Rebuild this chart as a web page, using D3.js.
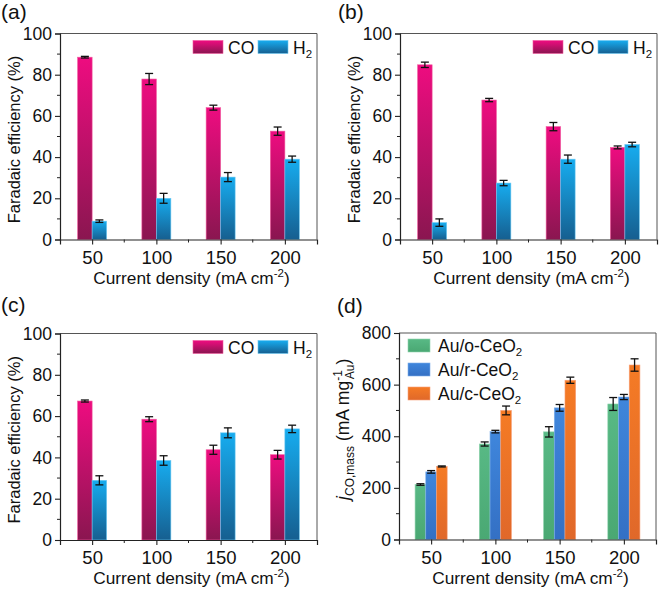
<!DOCTYPE html>
<html><head><meta charset="utf-8">
<script src="https://cdn.jsdelivr.net/npm/d3@7"></script>
<style>
html,body{margin:0;padding:0;background:#fff;}
svg{display:block;font-family:"Liberation Sans",Arial,sans-serif;}
</style></head>
<body>
<svg id="chart" width="661" height="589"></svg>
<script>
// ---------- data ----------
const currents = [50, 100, 150, 200];
const feTicks = [0, 20, 40, 60, 80, 100];
const massTicks = [0, 200, 400, 600, 800];

const aCO = [88.5, 77.9, 64.0, 52.6];
const aCOerr = [0.4, 2.7, 1.2, 2.0];
const aH2 = [8.9, 20.0, 30.3, 39.0];
const aH2err = [0.6, 2.4, 2.2, 1.5];

const bCO = [84.8, 67.7, 54.8, 44.7];
const bCOerr = [1.3, 0.8, 2.0, 0.7];
const bH2 = [8.2, 27.4, 39.0, 46.1];
const bH2err = [1.8, 1.3, 2.0, 1.1];

const cCO = [67.3, 58.5, 43.7, 41.3];
const cCOerr = [0.5, 1.2, 2.2, 2.1];
const cH2 = [28.9, 38.5, 51.9, 53.8];
const cH2err = [2.2, 2.3, 2.4, 1.8];

const dNames = ["Au/o-CeO", "Au/r-CeO", "Au/c-CeO"];
const dO = [213, 370, 417, 525];
const dOerr = [3, 8, 20, 25];
const dR = [262, 418, 510, 552];
const dRerr = [5, 5, 13, 10];
const dC = [283, 500, 617, 676];
const dCerr = [2, 17, 12, 24];

// ---------- drawing ----------
const svg = d3.select("#chart");
const defs = svg.append("defs");
function grad(id, top, bottom) {
  const g = defs.append("linearGradient").attr("id", id)
    .attr("x1", 0).attr("y1", 0).attr("x2", 0).attr("y2", 1);
  g.append("stop").attr("offset", "0%").attr("stop-color", top);
  g.append("stop").attr("offset", "100%").attr("stop-color", bottom);
}
grad("gCO", "#ee0c80", "#8a1650");
grad("gH2", "#17acef", "#165f90");
grad("gG", "#58b985", "#4aa873");
grad("gB", "#3f86dc", "#3470c4");
grad("gO", "#f57b25", "#e0682a");

const AX = "#222";

function panel(opt) {
  const {left, right, top, bottom} = opt;
  const g = svg.append("g");
  const x = d3.scaleLinear().domain([25, 225]).range([left, right]);
  const y = d3.scaleLinear().domain([0, opt.ymax]).range([bottom, top]);

  const nS = opt.series.length;
  const bw = opt.barW;
  opt.series.forEach((s, si) => {
    const off = (si - nS / 2) * bw;
    const grp = g.append("g");
    grp.selectAll("rect").data(s.values).enter().append("rect")
      .attr("x", (d, i) => x(currents[i]) + off)
      .attr("y", d => y(d))
      .attr("width", bw)
      .attr("height", d => y(0) - y(d))
      .attr("fill", `url(#${s.grad})`)
      .attr("stroke", s.edge).attr("stroke-width", 0.6);
    s.values.forEach((v, i) => {
      const cx = x(currents[i]) + off + bw / 2;
      const e = s.err[i];
      const eg = grp.append("g").attr("stroke", "#111").attr("stroke-width", 1.3);
      eg.append("line").attr("x1", cx).attr("x2", cx).attr("y1", y(v - e)).attr("y2", y(v + e));
      eg.append("line").attr("x1", cx - 4).attr("x2", cx + 4).attr("y1", y(v - e)).attr("y2", y(v - e));
      eg.append("line").attr("x1", cx - 4).attr("x2", cx + 4).attr("y1", y(v + e)).attr("y2", y(v + e));
    });
  });

  g.append("line").attr("x1", left).attr("x2", right).attr("y1", top).attr("y2", top).attr("stroke", "#555").attr("stroke-width", 1);
  g.append("line").attr("x1", right).attr("x2", right).attr("y1", top).attr("y2", bottom).attr("stroke", "#555").attr("stroke-width", 1);

  const ya = d3.axisLeft(y).tickValues(opt.yTicks).tickSize(5).tickPadding(3).tickFormat(d3.format("d"));
  const yg = g.append("g").attr("transform", `translate(${left},0)`).call(ya);
  yg.select(".domain").attr("stroke", AX).attr("stroke-width", 1.2);
  yg.selectAll(".tick line").attr("stroke", AX).attr("stroke-width", 1.1);
  yg.selectAll("text").attr("font-size", 17.5).attr("fill", "#111").attr("font-family", "Liberation Sans, Arial");
  const step = opt.yTicks[1] - opt.yTicks[0];
  const minor = opt.yTicks.slice(0, -1).map(t => t + step / 2);
  g.selectAll(null).data(minor).enter().append("line")
    .attr("x1", left - 3).attr("x2", left).attr("y1", d => y(d)).attr("y2", d => y(d))
    .attr("stroke", AX).attr("stroke-width", 1);

  const xa = d3.axisBottom(x).tickValues(currents).tickSize(5).tickPadding(6).tickFormat(d3.format("d"));
  const xg = g.append("g").attr("transform", `translate(0,${bottom})`).call(xa);
  xg.select(".domain").attr("stroke", AX).attr("stroke-width", 1.2);
  xg.selectAll(".tick line").attr("stroke", AX).attr("stroke-width", 1.1);
  xg.selectAll("text").attr("font-size", 18.5).attr("fill", "#111").attr("font-family", "Liberation Sans, Arial");
  g.selectAll(null).data([75, 125, 175]).enter().append("line")
    .attr("x1", d => x(d)).attr("x2", d => x(d)).attr("y1", bottom).attr("y2", bottom + 3)
    .attr("stroke", AX).attr("stroke-width", 1);

  const xt = g.append("text").attr("x", (left + right) / 2 + 3).attr("y", bottom + 44)
    .attr("text-anchor", "middle").attr("font-size", 17.3).attr("fill", "#111");
  xt.append("tspan").text("Current density (mA cm");
  xt.append("tspan").text("-2").attr("font-size", 11.5).attr("dy", -7);
  xt.append("tspan").text(")").attr("dy", 7);

  g.append("text").attr("x", opt.labelX).attr("y", opt.labelY).attr("font-size", 21).attr("fill", "#111").text(opt.label);
  return {g, x, y};
}

function fePanel(opt, co, coErr, h2, h2Err) {
  const p = panel(Object.assign(opt, {
    ymax: 100, yTicks: feTicks, barW: 14.5,
    series: [
      {values: co, err: coErr, grad: "gCO", edge: "#f25a9e"},
      {values: h2, err: h2Err, grad: "gH2", edge: "#6cc8f2"}
    ]
  }));
  const {g} = p;
  g.append("text").attr("transform", `translate(${opt.left - 40},${(opt.top + opt.bottom) / 2 + 3}) rotate(-90)`)
    .attr("text-anchor", "middle").attr("font-size", 16.5).attr("fill", "#111")
    .text("Faradaic efficiency (%)");
  const ly = opt.top + 7;
  const lx = opt.right - 124;
  const items = [{t: "CO", gr: "gCO", e: "#f25a9e"}, {t: "H", sub: "2", gr: "gH2", e: "#6cc8f2"}];
  let cx = lx;
  items.forEach(it => {
    g.append("rect").attr("x", cx).attr("y", ly).attr("width", 30).attr("height", 13)
      .attr("fill", `url(#${it.gr})`).attr("stroke", it.e).attr("stroke-width", 0.6);
    const t = g.append("text").attr("x", cx + 35).attr("y", ly + 13).attr("font-size", 17.5).attr("fill", "#111");
    t.append("tspan").text(it.t);
    if (it.sub) t.append("tspan").text(it.sub).attr("font-size", 11.5).attr("dy", 4);
    cx += 65;
  });
}

fePanel({left: 60, right: 317, top: 33.5, bottom: 239.5, label: "(a)", labelX: 1, labelY: 19}, aCO, aCOerr, aH2, aH2err);
fePanel({left: 400, right: 657, top: 33.5, bottom: 239.5, label: "(b)", labelX: 338, labelY: 19}, bCO, bCOerr, bH2, bH2err);
fePanel({left: 60, right: 317, top: 333.5, bottom: 540, label: "(c)", labelX: 1, labelY: 312}, cCO, cCOerr, cH2, cH2err);

(function () {
  const opt = {left: 399, right: 656, top: 333, bottom: 539.5, label: "(d)", labelX: 337, labelY: 313,
    ymax: 800, yTicks: massTicks, barW: 10.7,
    series: [
      {values: dO, err: dOerr, grad: "gG", edge: "#8fd3ad"},
      {values: dR, err: dRerr, grad: "gB", edge: "#7fb0ea"},
      {values: dC, err: dCerr, grad: "gO", edge: "#f7a07a"}
    ]};
  const p = panel(opt);
  const {g} = p;
  const yt = g.append("text").attr("transform", `translate(${opt.left - 50},${(opt.top + opt.bottom) / 2 - 7}) rotate(-90)`)
    .attr("text-anchor", "middle").attr("font-size", 17.5).attr("fill", "#111");
  yt.append("tspan").text("j").attr("font-style", "italic");
  yt.append("tspan").text("CO,mass").attr("font-size", 12).attr("dy", 4.5);
  yt.append("tspan").text(" (mA mg").attr("dy", -4.5);
  yt.append("tspan").text("-1").attr("font-size", 12).attr("dy", -7.5);
  yt.append("tspan").text("Au").attr("font-size", 12).attr("dy", 12).attr("dx", -9);
  yt.append("tspan").text(")").attr("dy", -4.5);
  const grads = ["gG", "gB", "gO"];
  const edges = ["#8fd3ad", "#7fb0ea", "#f7a07a"];
  dNames.forEach((n, i) => {
    const yy = opt.top + 6 + i * 24;
    g.append("rect").attr("x", opt.left + 9).attr("y", yy).attr("width", 22).attr("height", 13)
      .attr("fill", `url(#${grads[i]})`).attr("stroke", edges[i]).attr("stroke-width", 0.6);
    const t = g.append("text").attr("x", opt.left + 39).attr("y", yy + 13).attr("font-size", 17.5).attr("fill", "#111");
    t.append("tspan").text(n);
    t.append("tspan").text("2").attr("font-size", 11.5).attr("dy", 4);
  });
})();
</script>
</body></html>
